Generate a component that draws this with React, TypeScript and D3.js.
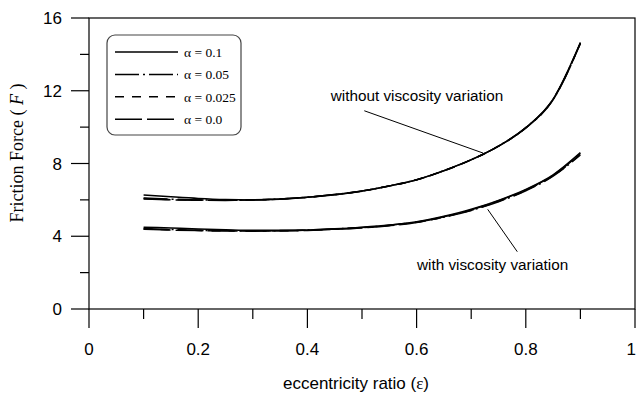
import React from "react";
import * as d3 from "d3";

const eps = [0.1, 0.15, 0.2, 0.25, 0.3, 0.35, 0.4, 0.45, 0.5, 0.55, 0.6, 0.65, 0.7, 0.75, 0.8, 0.85, 0.9];

const withoutA10 = [6.27, 6.17, 6.08, 6.02, 6.0, 6.05, 6.15, 6.29, 6.49, 6.77, 7.11, 7.61, 8.21, 8.96, 9.97, 11.54, 14.65];
const withoutA05 = [6.1, 6.04, 6.0, 5.98, 6.0, 6.05, 6.15, 6.29, 6.49, 6.77, 7.11, 7.61, 8.21, 8.96, 9.97, 11.53, 14.63];
const withoutA025 = [6.07, 6.02, 5.99, 5.98, 6.0, 6.05, 6.14, 6.28, 6.48, 6.76, 7.1, 7.6, 8.2, 8.95, 9.96, 11.52, 14.62];
const withoutA0 = [6.05, 6.0, 5.98, 5.97, 5.99, 6.04, 6.14, 6.28, 6.48, 6.76, 7.1, 7.6, 8.2, 8.95, 9.95, 11.5, 14.6];

const withA10 = [4.5, 4.45, 4.4, 4.36, 4.33, 4.33, 4.35, 4.41, 4.5, 4.62, 4.8, 5.1, 5.48, 5.97, 6.58, 7.38, 8.6];
const withA05 = [4.42, 4.37, 4.33, 4.31, 4.3, 4.31, 4.34, 4.4, 4.48, 4.6, 4.78, 5.05, 5.42, 5.9, 6.5, 7.3, 8.47];
const withA025 = [4.4, 4.36, 4.32, 4.3, 4.29, 4.3, 4.33, 4.39, 4.47, 4.59, 4.77, 5.06, 5.43, 5.92, 6.52, 7.33, 8.5];
const withA0 = [4.38, 4.34, 4.31, 4.29, 4.28, 4.29, 4.32, 4.38, 4.46, 4.58, 4.76, 5.07, 5.45, 5.95, 6.55, 7.35, 8.55];

const legendLabels = ["α = 0.1", "α = 0.05", "α = 0.025", "α = 0.0"];
const xTicks = [0, 0.2, 0.4, 0.6, 0.8, 1];
const xTickLabels = ["0", "0.2", "0.4", "0.6", "0.8", "1"];
const xMinor = [0.1, 0.3, 0.5, 0.7, 0.9];
const yTicks = [0, 4, 8, 12, 16];
const yMinor = [2, 6, 10, 14];

const W = 636;
const H = 394;
const left = 89;
const right = 635;
const top = 18;
const bottom = 309;

const dashes = ["none", "24,4,2,4", "9,8", "27,5"];

export default function App() {
  const x = d3.scaleLinear().domain([0, 1]).range([left, right]);
  const y = d3.scaleLinear().domain([0, 16]).range([bottom, top]);
  const line = d3
    .line<number>()
    .x((_, i) => x(eps[i]))
    .y((d) => y(d))
    .curve(d3.curveMonotoneX);

  const groups = [
    [withoutA10, withoutA05, withoutA025, withoutA0],
    [withA10, withA05, withA025, withA0],
  ];

  const sans = "'Liberation Sans', Arial, sans-serif";
  const serif = "'Liberation Serif', 'Times New Roman', serif";

  const legX = 107;
  const legY = 35;
  const rowY = (i: number) => 52 + i * 22.4;

  return (
    <svg width={W} height={H} style={{ position: "absolute", left: 0, top: 0 }}>
      <rect x={0} y={0} width={W} height={H} fill="#fff" />
      <rect x={left} y={top} width={right - left} height={bottom - top} fill="none" stroke="#000" strokeWidth={1.2} />
      {xTicks.map((t, i) => (
        <g key={"xt" + i}>
          <line x1={x(t)} x2={x(t)} y1={bottom} y2={bottom + 19} stroke="#000" strokeWidth={1.2} />
          <text
            x={t === 1 ? W : x(t)}
            y={355}
            textAnchor={t === 1 ? "end" : "middle"}
            fontFamily={sans}
            fontSize={17}
          >
            {xTickLabels[i]}
          </text>
        </g>
      ))}
      {xMinor.map((t, i) => (
        <line key={"xm" + i} x1={x(t)} x2={x(t)} y1={bottom} y2={bottom + 10} stroke="#000" strokeWidth={1.2} />
      ))}
      {yTicks.map((t, i) => (
        <g key={"yt" + i}>
          <line x1={left - 18} x2={left} y1={y(t)} y2={y(t)} stroke="#000" strokeWidth={1.2} />
          <text x={62} y={y(t)} dy="0.36em" textAnchor="end" fontFamily={sans} fontSize={17}>
            {t}
          </text>
        </g>
      ))}
      {yMinor.map((t, i) => (
        <line key={"ym" + i} x1={left - 9} x2={left} y1={y(t)} y2={y(t)} stroke="#000" strokeWidth={1.2} />
      ))}
      <text x={356} y={389} textAnchor="middle" fontFamily={sans} fontSize={17}>
        eccentricity ratio (<tspan fontFamily={serif}>ε</tspan>)
      </text>
      <text transform={`translate(22.5,153) rotate(-90)`} textAnchor="middle" fontFamily={serif} fontSize={18}>
        Friction Force ( <tspan fontStyle="italic">F</tspan> )
      </text>
      {groups.map((g, gi) =>
        g.map((vals, si) => (
          <path
            key={`c${gi}-${si}`}
            d={line(vals) || ""}
            fill="none"
            stroke="#000"
            strokeWidth={1.5}
            strokeDasharray={dashes[si]}
          />
        ))
      )}
      <text x={x(0.4427)} y={y(11.45)} fontFamily={sans} fontSize={15.3}>
        without viscosity variation
      </text>
      <line x1={x(0.5042)} y1={y(10.9)} x2={x(0.7221)} y2={y(8.57)} stroke="#000" strokeWidth={1} />
      <text x={x(0.6007)} y={y(2.14)} fontFamily={sans} fontSize={15.3}>
        with viscosity variation
      </text>
      <line x1={x(0.7302)} y1={y(5.48)} x2={x(0.7844)} y2={y(3.15)} stroke="#000" strokeWidth={1} />
      <rect x={legX} y={legY} width={134} height={100} rx={8} ry={8} fill="#fff" stroke="#444" strokeWidth={1.2} />
      {legendLabels.map((lab, i) => (
        <g key={"lg" + i}>
          <line x1={115} x2={178} y1={rowY(i)} y2={rowY(i)} stroke="#000" strokeWidth={1.5} strokeDasharray={dashes[i]} />
          <text x={184} y={rowY(i)} dy="0.35em" fontFamily={serif} fontSize={13.5}>
            {lab}
          </text>
        </g>
      ))}
    </svg>
  );
}
